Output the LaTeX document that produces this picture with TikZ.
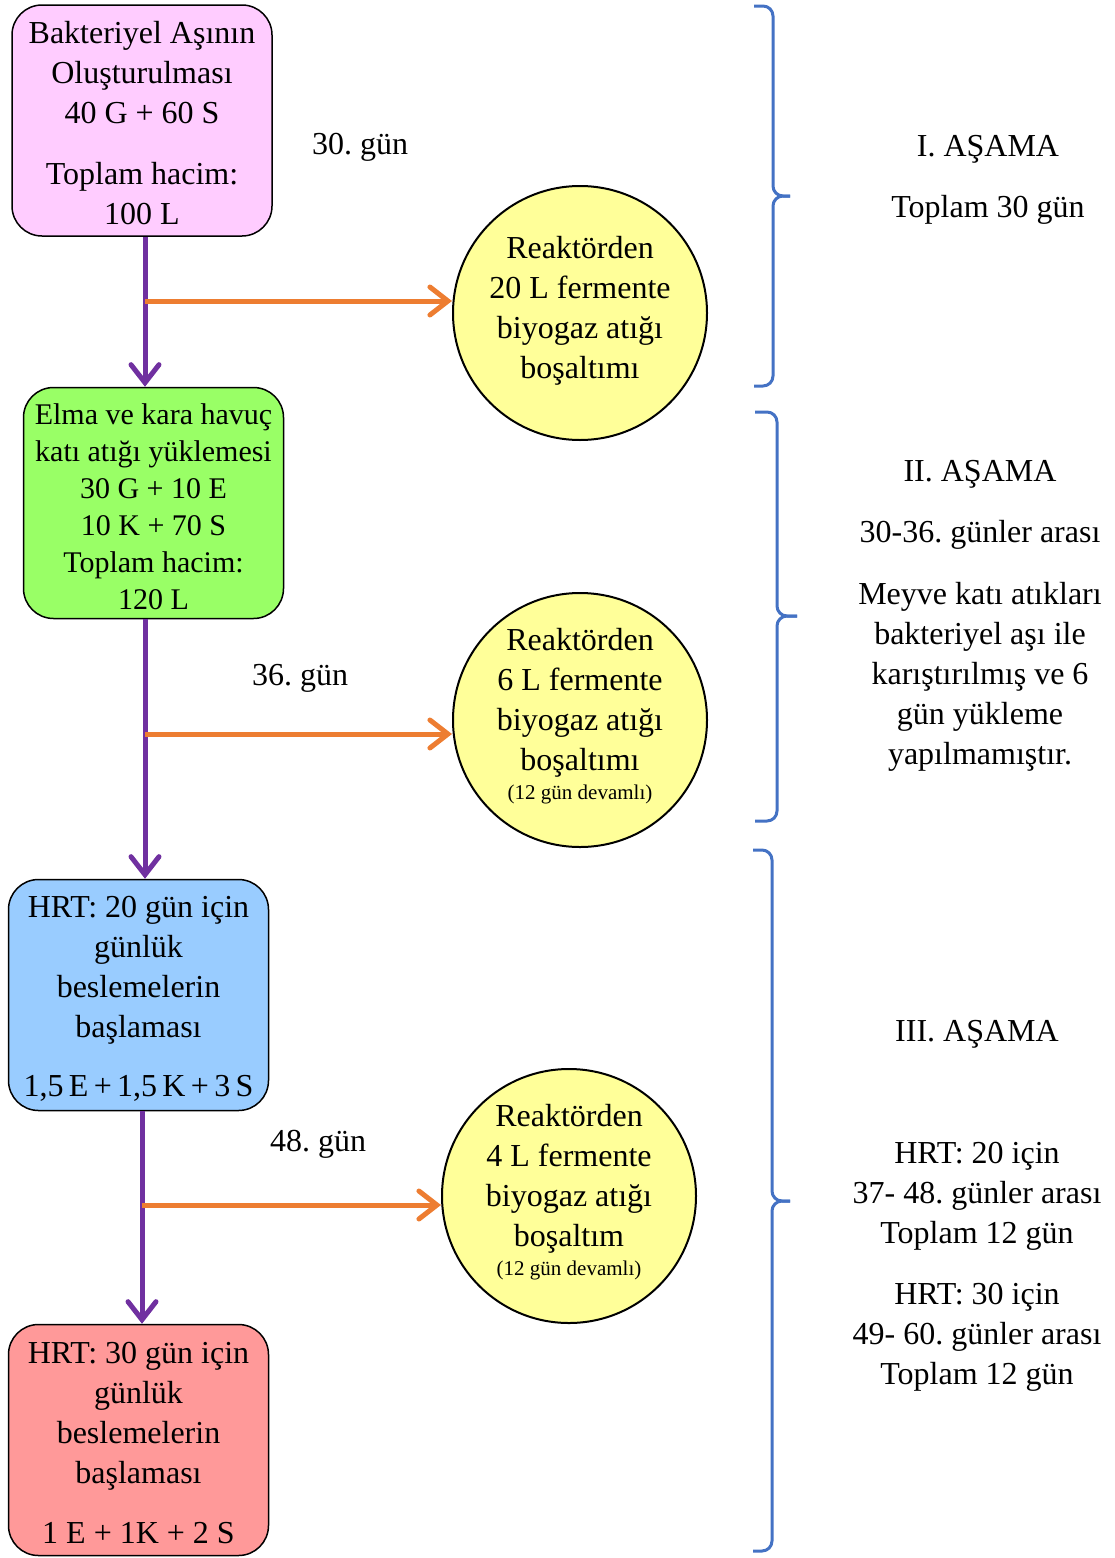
\documentclass[tikz,border=0pt]{standalone}
\usepackage{fontspec}
\setmainfont{Liberation Serif}
\usetikzlibrary{arrows.meta}
\frenchspacing
\definecolor{pinkbox}{HTML}{FFCCFF}
\definecolor{greenbox}{HTML}{99FF66}
\definecolor{bluebox}{HTML}{99CCFF}
\definecolor{redbox}{HTML}{FF9999}
\definecolor{drainfill}{HTML}{FFFF99}
\definecolor{flowpurple}{HTML}{7030A0}
\definecolor{taporange}{HTML}{ED7D31}
\definecolor{braceblue}{HTML}{4472C4}
\newcommand{\smalltxt}{\fontsize{10.5}{12}\selectfont}
\newcommand{\boxgap}{\rule{0pt}{14pt}}
\newcommand{\circgap}{\rule[-6pt]{0pt}{6pt}}
\begin{document}
\begin{tikzpicture}[x=0.5pt,y=-0.5pt,
  stagebox/.style={draw, line width=0.75pt, rounded corners=15pt, minimum width=130pt,
    minimum height=115.5pt, inner sep=0pt, align=center, font=\fontsize{16}{20}\selectfont},
  drain/.style={circle, draw, line width=1pt, fill=drainfill, minimum size=127pt,
    inner sep=0pt, align=center, font=\fontsize{16}{20}\selectfont},
  note/.style={align=center, inner sep=0pt, font=\fontsize{16}{20}\selectfont},
  flow/.style={draw=flowpurple, line width=2.5pt,
    -{Straight Barb[length=9pt,width=14pt,line cap=round]}},
  tap/.style={draw=taporange, line width=2.5pt,
    -{Straight Barb[length=9pt,width=14pt,line cap=round]}},
  bracepen/.style={draw=braceblue, line width=1.5pt, rounded corners=5pt}]
\useasboundingbox (0,0) rectangle (1114,1558);

\node[stagebox, fill=pinkbox] (inoc) at (142,120.5)
  {\boxgap Bakteriyel Aşının\\Oluşturulması\\40 G + 60 S\\[10.5pt]Toplam hacim:\\100 L};
\node[stagebox, fill=greenbox, font=\fontsize{15}{18.5}\selectfont] (load) at (153.5,503)
  {\boxgap Elma ve kara havuç\\katı atığı yüklemesi\\30 G + 10 E\\10 K + 70 S\\Toplam hacim:\\120 L};
\node[stagebox, fill=bluebox] (feed20) at (138.5,995)
  {\boxgap HRT: 20 gün için\\günlük\\beslemelerin\\başlaması\\[9.5pt]1,5\,E\,+\,1,5\,K\,+\,3\,S};
\node[stagebox, fill=redbox] (feed30) at (138.5,1440)
  {\boxgap HRT: 30 gün için\\günlük\\beslemelerin\\başlaması\\[10pt]1 E + 1K + 2 S};

\node[drain] (dr1) at (580,313) {Reaktörden\\20 L fermente\\biyogaz atığı\\boşaltımı\circgap};
\node[drain] (dr2) at (580,720)
  {Reaktörden\\6 L fermente\\biyogaz atığı\\boşaltımı\\[-5.5pt]{\smalltxt (12 gün devamlı)}\circgap};
\node[drain] (dr3) at (569,1196)
  {Reaktörden\\4 L fermente\\biyogaz atığı\\boşaltım\\[-5.5pt]{\smalltxt (12 gün devamlı)}\circgap};

\node[note] (d30) at (360,147) {30. gün};
\node[note] (d36) at (300,678) {36. gün};
\node[note] (d48) at (318,1144) {48. gün};

\coordinate (t1) at (145,301);
\coordinate (t2) at (145,734);
\coordinate (t3) at (142,1205);
\draw[flow] (inoc.south -| t1) -- (t1 |- load.north);
\draw[flow] (load.south -| t2) -- (t2 |- feed20.north);
\draw[flow] (feed20.south -| t3) -- (t3 |- feed30.north);
\draw[tap] (t1) -- (t1 -| dr1.west);
\draw[tap] (t2) -- (t2 -| dr2.west);
\draw[tap] (t3) -- (t3 -| dr3.west);

\draw[bracepen] (754,6) -- (773,6) -- (773,196) -- (790,196);
\draw[bracepen] (754,386) -- (773,386) -- (773,196) -- (790,196);
\draw[bracepen] (755,412) -- (777,412) -- (777,616) -- (797,616);
\draw[bracepen] (755,821) -- (777,821) -- (777,616) -- (797,616);
\draw[bracepen] (753,850) -- (772,850) -- (772,1201) -- (790,1201);
\draw[bracepen] (753,1551) -- (772,1551) -- (772,1201) -- (790,1201);

\node[note] (ph1) at (988,149) {I. AŞAMA};
\node[note] (ph1d) at (988,210) {Toplam 30 gün};
\node[note] (ph2) at (980,474) {II. AŞAMA};
\node[note] (ph2d) at (980,535) {30-36. günler arası};
\node[note] (ph2n) at (980,677)
  {Meyve katı atıkları\\bakteriyel aşı ile\\karıştırılmış ve 6\\gün yükleme\\yapılmamıştır.};
\node[note] (ph3) at (977,1034) {III. AŞAMA};
\node[note] (ph3a) at (977,1196) {HRT: 20 için\\37- 48. günler arası\\Toplam 12 gün};
\node[note] (ph3b) at (977,1337) {HRT: 30 için\\49- 60. günler arası\\Toplam 12 gün};
\end{tikzpicture}
\end{document}
